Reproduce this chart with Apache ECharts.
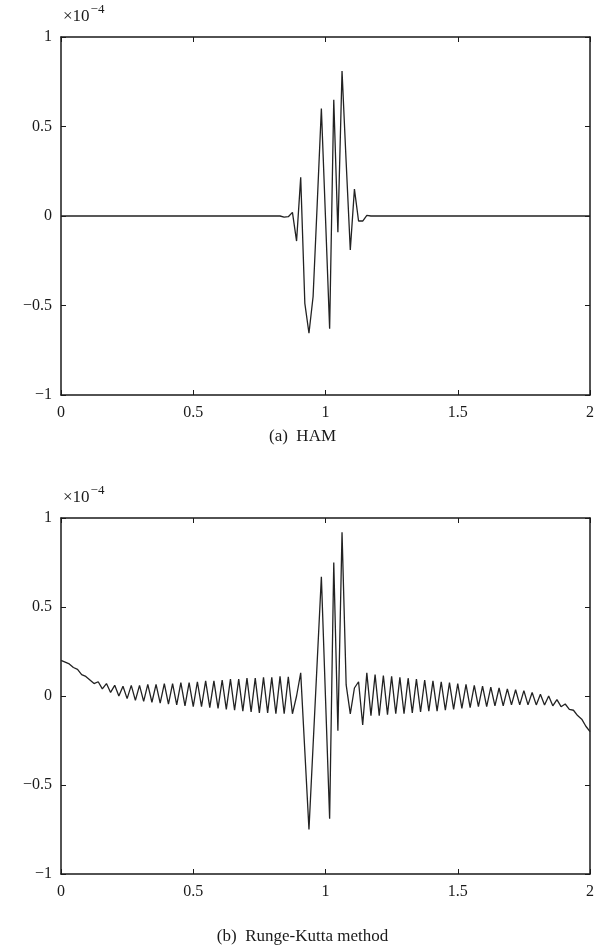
<!DOCTYPE html>
<html><head><meta charset="utf-8">
<script src="https://cdn.jsdelivr.net/npm/echarts@6/dist/echarts.min.js"></script>
<style>html,body{margin:0;padding:0;background:#fff}#c{width:605px;height:951px}</style>
</head><body><div id="c"></div>
<script>
// sampling step of the solution grid (x from 0 to 2)
const dx = 1/64;
const xTicks = [0, 0.5, 1, 1.5, 2];
const yTicks = [-1, -0.5, 0, 0.5, 1];
// HAM (values in units of 1e-4), i = 0..128
const hamValues = [
 0,0,0,0,0,0,0,0,0,0, 0,0,0,0,0,0,0,0,0,0,
 0,0,0,0,0,0,0,0,0,0, 0,0,0,0,0,0,0,0,0,0,
 0,0,0,0,0,0,0,0,0,0, 0,0,0,0,-0.006,-0.004,0.02,-0.14,0.216,-0.488,
 -0.655,-0.45,0.07,0.60,-0.01,-0.63,0.65,-0.09,0.81,0.30,
 -0.19,0.15,-0.028,-0.028,0.004,0,0,0,0,0,
 0,0,0,0,0,0,0,0,0,0, 0,0,0,0,0,0,0,0,0,0,
 0,0,0,0,0,0,0,0,0,0, 0,0,0,0,0,0,0,0,0,0,
 0,0,0,0,0,0,0,0,0
];
// Runge-Kutta (values in units of 1e-4), i = 0..128
const rkValues = [
 0.20,0.19,0.18,0.16,0.15,0.12,0.11,0.09,0.07,0.08,
 0.04,0.07,0.02,0.06,0.0,0.055,-0.015,0.06,-0.025,0.06,
 -0.03,0.065,-0.035,0.065,-0.04,0.07,-0.045,0.07,-0.05,0.075,
 -0.055,0.075,-0.06,0.08,-0.06,0.085,-0.065,0.085,-0.07,0.09,
 -0.075,0.095,-0.08,0.095,-0.085,0.1,-0.09,0.1,-0.095,0.105,
 -0.095,0.105,-0.1,0.11,-0.1,0.108,-0.1,0.0,0.13,-0.31,
 -0.75,-0.277,0.197,0.67,-0.01,-0.69,0.75,-0.195,0.92,0.062,
 -0.1,0.045,0.08,-0.163,0.13,-0.11,0.12,-0.11,0.115,-0.105,
 0.11,-0.1,0.105,-0.1,0.1,-0.095,0.095,-0.09,0.09,-0.085,
 0.085,-0.085,0.08,-0.08,0.075,-0.075,0.07,-0.07,0.065,-0.065,
 0.06,-0.06,0.055,-0.06,0.05,-0.055,0.045,-0.055,0.04,-0.05,
 0.035,-0.05,0.03,-0.05,0.02,-0.05,0.01,-0.05,0.0,-0.055,
 -0.02,-0.06,-0.045,-0.075,-0.08,-0.11,-0.13,-0.17,-0.2
];
const captions = ['(a)  HAM', '(b)  Runge-Kutta method'];
const scaleLabel = '×10';
const scaleExp = '−4';

const FONT = '"Liberation Serif", "DejaVu Serif", serif';
const fmt = v => (v < 0 ? '\u2212' + Math.abs(v) : String(v));
const toPairs = vals => vals.map((v, i) => [i * dx, v]);

const grids = [
  {left: 61, top: 37, width: 529, height: 358},
  {left: 61, top: 518, width: 529, height: 356}
];
const captionTops = [428, 928];
const axLine = {show: true, onZero: false, lineStyle: {color: '#1a1a1a', width: 1.5}};
const tick = {show: true, inside: true, length: 5, lineStyle: {color: '#1a1a1a', width: 1}};
const xAxes = [], yAxes = [];
grids.forEach((g, k) => {
  xAxes.push({type: 'value', gridIndex: k, min: 0, max: 2, interval: 0.5, position: 'bottom',
    axisLine: axLine, axisTick: tick, splitLine: {show: false},
    axisLabel: {show: true, margin: 10, color: '#1a1a1a', fontFamily: FONT, fontSize: 16, formatter: fmt}});
  xAxes.push({type: 'value', gridIndex: k, min: 0, max: 2, interval: 0.5, position: 'top',
    axisLine: axLine, axisTick: tick, splitLine: {show: false}, axisLabel: {show: false}});
  yAxes.push({type: 'value', gridIndex: k, min: -1, max: 1, interval: 0.5, position: 'left',
    axisLine: axLine, axisTick: tick, splitLine: {show: false},
    axisLabel: {show: true, margin: 9, color: '#1a1a1a', fontFamily: FONT, fontSize: 16, formatter: fmt}});
  yAxes.push({type: 'value', gridIndex: k, min: -1, max: 1, interval: 0.5, position: 'right',
    axisLine: axLine, axisTick: tick, splitLine: {show: false}, axisLabel: {show: false}});
});

const lineSeries = (vals, k) => ({
  type: 'line', xAxisIndex: 2 * k, yAxisIndex: 2 * k, data: toPairs(vals),
  showSymbol: false, symbol: 'none', animation: false,
  lineStyle: {color: '#222', width: 1.3}
});

const titles = [];
grids.forEach((g, k) => {
  titles.push({text: captions[k], left: 'center', top: captionTops[k], padding: 0,
    textStyle: {fontFamily: FONT, fontSize: 17, fontWeight: 'normal', color: '#1a1a1a'}});
  titles.push({text: '{a|' + scaleLabel + '}{b|' + scaleExp + '}', left: 63, top: g.top - 34, padding: 0,
    textStyle: {fontWeight: 'normal', rich: {
      a: {fontFamily: FONT, fontSize: 17, fontWeight: 'normal', color: '#1a1a1a', verticalAlign: 'bottom', lineHeight: 22},
      b: {fontFamily: FONT, fontSize: 13, fontWeight: 'normal', color: '#1a1a1a', verticalAlign: 'top', lineHeight: 22, padding: [0,0,0,1]}
    }}});
});

const chart = echarts.init(document.getElementById('c'), null, {renderer: 'canvas'});
chart.setOption({
  backgroundColor: '#fff',
  animation: false,
  title: titles,
  grid: grids,
  xAxis: xAxes,
  yAxis: yAxes,
  series: [lineSeries(hamValues, 0), lineSeries(rkValues, 1)]
});
</script></body></html>
